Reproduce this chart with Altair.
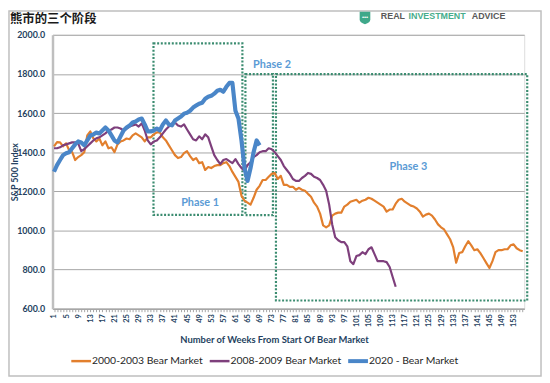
import altair as alt
import pandas as pd

# ---------------- data ----------------
series_names = ["2000-2003 Bear Market", "2008-2009 Bear Market", "2020 - Bear Market"]
series_colors = ["#E27F2D", "#7E3F7C", "#4A86C8"]

bear_2000 = [
    1430, 1451, 1450, 1430, 1445, 1410, 1400, 1360, 1375, 1385,
    1400, 1486, 1506, 1471, 1455, 1470, 1435, 1455, 1420, 1425,
    1400, 1440, 1455, 1460, 1470, 1466, 1486, 1496, 1486, 1476,
    1455, 1476, 1476, 1491, 1501, 1501, 1476, 1460, 1435, 1410,
    1385, 1370, 1375, 1395, 1405, 1380, 1360, 1370, 1344, 1349,
    1309, 1324, 1319, 1329, 1334, 1334, 1344, 1349, 1329, 1299,
    1274, 1248, 1177, 1152, 1142, 1132, 1167, 1208, 1228, 1258,
    1258, 1274, 1289, 1294, 1263, 1279, 1233, 1233, 1223, 1223,
    1208, 1218, 1208, 1203, 1187, 1172, 1142, 1122, 1086, 1026,
    1016, 1026, 1076, 1086, 1091, 1091, 1122, 1132, 1147, 1152,
    1157, 1142, 1152, 1157, 1167, 1162, 1152, 1142, 1132, 1122,
    1096, 1107, 1107, 1137, 1157, 1162, 1147, 1137, 1127, 1122,
    1112, 1096, 1071, 1081, 1086, 1076, 1056, 1031, 1016, 1005,
    980, 955, 915, 835, 885, 889, 919, 945, 924, 899,
    904, 884, 859, 833, 808, 843, 889, 899, 899, 904,
    904, 924, 929, 909, 899, 894,
]

bear_2008 = [
    1420, 1420, 1425, 1435, 1440, 1445, 1450, 1450, 1445, 1405,
    1415, 1430, 1445, 1460, 1471, 1476, 1486, 1496, 1511, 1516,
    1526, 1526, 1521, 1511, 1521, 1531, 1536, 1542, 1531, 1547,
    1511, 1460, 1440, 1455, 1460, 1476, 1496, 1516, 1531, 1547,
    1552, 1536, 1531, 1542, 1516, 1491, 1466, 1460, 1481, 1466,
    1491, 1476, 1430, 1385, 1360, 1339, 1360, 1365, 1354, 1344,
    1365, 1339, 1319, 1304, 1334, 1349, 1375, 1385, 1400, 1405,
    1405, 1420, 1415, 1400, 1380, 1360, 1329, 1309, 1289, 1263,
    1253, 1253, 1268, 1279, 1294, 1289, 1274, 1268, 1258, 1233,
    1203, 1132, 1031, 965, 950, 940, 940, 919, 843, 828,
    869, 874, 889, 879, 904, 914, 879, 843, 843, 843,
    838, 813, 762, 712,
]

bear_2020 = [
    1300, 1334, 1360, 1385, 1395, 1400, 1420, 1440, 1455, 1450,
    1435, 1460, 1485, 1490, 1500, 1496, 1511, 1526, 1511, 1486,
    1460, 1450, 1481, 1511, 1526, 1536, 1552, 1557, 1567, 1572,
    1542, 1506, 1506, 1511, 1521, 1511, 1542, 1562, 1542, 1537,
    1562, 1572, 1582, 1597, 1602, 1612, 1628, 1638, 1648, 1653,
    1673, 1683, 1688, 1699, 1714, 1719, 1709, 1734, 1754, 1754,
    1612, 1572, 1460, 1319, 1253, 1319, 1400, 1460, 1435,
]

y_ticks = [600, 800, 1000, 1200, 1400, 1600, 1800, 2000]
n_weeks = 156

phase_names = ["Phase 1", "Phase 2", "Phase 3"]
phase_week_start = [33.9, 64.3, 74.4]
phase_week_end = [63.3, 73.4, 157.5]
phase_top = [1956, 1799, 1799]
phase_bottom = [1080, 1078, 642]
phase_label_week = [49.3, 73.1, 118.2]
phase_label_value = [1141, 1843, 1323]

title_text = "熊市的三个阶段"
x_title = "Number of Weeks From Start Of Bear Market"
y_title = "S&P 500 Index"

# ---------------- build ----------------
W, H = 477, 277
NAVY = "#243F60"
GRID = "#A6A6A6"
FONT = "Lato"

x_scale = alt.Scale(domain=[0.5, n_weeks + 0.5], nice=False, zero=False)
y_scale = alt.Scale(domain=[600, 2000], nice=False, zero=False)

x_axis = alt.Axis(
    values=list(range(1, n_weeks + 1)),
    labelExpr="(datum.value - 1) % 4 == 0 ? datum.label : ''",
    labelAngle=270, labelFontSize=7.5, labelFontWeight="bold", labelColor=NAVY,
    labelFont=FONT, labelOverlap=False, labelPadding=2, labelFlush=False,
    tickSize=3, tickColor=GRID, domainColor=GRID, domainWidth=1.5, grid=False,
    title=x_title, titleFont=FONT, titleFontSize=9.5, titleFontWeight="bold",
    titleColor=NAVY, titleX=224, titleY=31, titleBaseline="middle", titleAlign="center",
)
y_axis = alt.Axis(
    values=y_ticks, format=".1f", grid=True, gridColor=GRID, gridWidth=1,
    ticks=False, domainColor="#BFBFBF", domainWidth=2.5,
    labelFont=FONT, labelFontSize=9, labelFontWeight="bold", labelColor=NAVY, labelPadding=8,
    title=y_title, titleFont=FONT, titleFontSize=9, titleFontWeight="bold", titleColor=NAVY,
    titleX=-38, titleY=H / 2, titleAngle=270, titleBaseline="middle", titleAlign="center",
)

layers = []

# phase boxes
phase_df = pd.DataFrame({
    "phase": phase_names, "start": phase_week_start, "end": phase_week_end,
    "top": phase_top, "bottom": phase_bottom,
})
boxes = alt.Chart(phase_df).mark_rect(
    fillOpacity=0, stroke="#3B8C70", strokeWidth=2.2, strokeDash=[2, 1.7]
).encode(
    x=alt.X("start:Q", scale=x_scale, axis=x_axis),
    x2="end:Q",
    y=alt.Y("top:Q", scale=y_scale, axis=y_axis),
    y2="bottom:Q",
)
layers.append(boxes)

# series lines
all_series = [bear_2000, bear_2008, bear_2020]
widths = [2.2, 2.2, 4.2]
for name, color, vals, wdt in zip(series_names, series_colors, all_series, widths):
    df = pd.DataFrame({"week": list(range(1, len(vals) + 1)), "value": vals, "series": name})
    layers.append(
        alt.Chart(df).mark_line(color=color, strokeWidth=wdt, strokeJoin="round").encode(
            x=alt.X("week:Q", scale=x_scale, axis=x_axis),
            y=alt.Y("value:Q", scale=y_scale, axis=y_axis),
        )
    )

# phase labels
plabel_df = pd.DataFrame({"phase": phase_names, "week": phase_label_week, "value": phase_label_value})
layers.append(
    alt.Chart(plabel_df).mark_text(
        font=FONT, fontSize=11, fontWeight="bold", color="#5B9BD5", align="center", baseline="middle"
    ).encode(
        x=alt.X("week:Q", scale=x_scale, axis=x_axis),
        y=alt.Y("value:Q", scale=y_scale, axis=y_axis),
        text="phase:N",
    )
)

one = pd.DataFrame({"a": [0]})

# outer frame
layers.append(
    alt.Chart(one).mark_rect(fillOpacity=0, stroke="#BFBFBF", strokeWidth=1.5).encode(
        x=alt.value(-44), x2=alt.value(494), y=alt.value(-24), y2=alt.value(345)
    )
)

# title
layers.append(
    alt.Chart(one).mark_text(
        text=title_text, font="Noto Sans CJK SC", fontSize=12.5, fontWeight="bold",
        color="#1A1A1A", align="left", baseline="middle"
    ).encode(x=alt.value(-43), y=alt.value(-16))
)

# logo
layers.append(
    alt.Chart(one).mark_point(
        shape="M -0.85 -1 L 0.85 -1 L 0.85 0.25 Q 0.85 0.75 0 1 Q -0.85 0.75 -0.85 0.25 Z",
        filled=True, fill="#3FA88A", opacity=1, size=160, strokeWidth=0
    ).encode(x=alt.value(316), y=alt.value(-17))
)
layers.append(
    alt.Chart(one).mark_text(text="•••", fontSize=6, color="white", align="center", baseline="middle")
    .encode(x=alt.value(316), y=alt.value(-18))
)
for txt, px, col in [("REAL", 332, "#595959"), ("INVESTMENT", 360, "#47AD8C"), ("ADVICE", 424, "#595959")]:
    layers.append(
        alt.Chart(one).mark_text(
            text=txt, font="Liberation Sans", fontSize=9, fontWeight="bold", color=col,
            align="left", baseline="middle"
        ).encode(x=alt.value(px), y=alt.value(-19))
    )

# legend
legend_x = [19, 159, 299]
for name, color, wdt, lx in zip(series_names, series_colors, [2.5, 2.5, 4], legend_x):
    layers.append(
        alt.Chart(one).mark_rule(color=color, strokeWidth=wdt).encode(
            x=alt.value(lx), x2=alt.value(lx + 20), y=alt.value(330)
        )
    )
    layers.append(
        alt.Chart(one).mark_text(
            text=name, font=FONT, fontSize=10.5, color="#262626", align="left", baseline="middle"
        ).encode(x=alt.value(lx + 21), y=alt.value(330))
    )

chart = alt.layer(*layers).properties(
    width=W, height=H,
    autosize=alt.AutoSizeParams(type="none"),
    padding={"left": 45, "top": 25, "right": 18, "bottom": 70},
).configure_view(stroke=None).configure(background="white")

chart.save("out.html", embed_options={"renderer": "svg", "actions": False})
